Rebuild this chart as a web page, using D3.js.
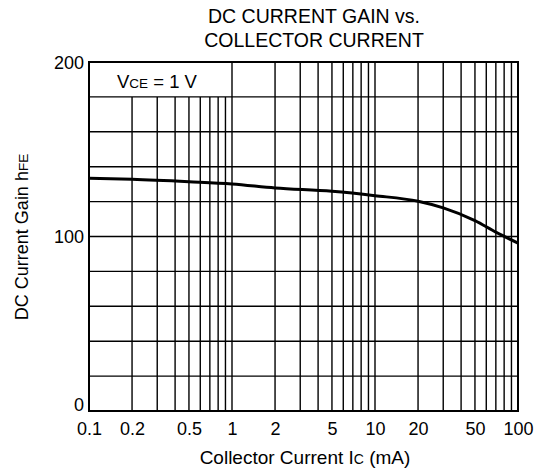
<!DOCTYPE html>
<html><head><meta charset="utf-8">
<script src="https://cdn.jsdelivr.net/npm/d3@7"></script>
<style>body{margin:0;background:#fff}svg{display:block}text{font-family:"Liberation Sans",Arial,sans-serif;fill:#000}</style>
</head><body>
<script>
const currentIc = [0.1, 0.2, 0.5, 1, 2, 5, 10, 20, 30, 50, 70, 100];
const gainHfe = [133.4, 132.8, 131.4, 130.1, 127.8, 125.9, 123.4, 120.2, 116.4, 109.1, 102.5, 96.2];
const xTickLabels = [0.1, 0.2, 0.5, 1, 2, 5, 10, 20, 50, 100];
const yTickLabels = [0, 100, 200];
const yGrid = d3.range(0, 201, 20);

const W = 543, H = 473;
const m = {l: 89, r: 518, t: 62, b: 411};
const svg = d3.select("body").append("svg").attr("width", W).attr("height", H);
const x = d3.scaleLog().domain([0.1, 100]).range([m.l, m.r]);
const y = d3.scaleLinear().domain([0, 200]).range([m.b, m.t]);

const xGrid = [];
for (let d = 0.1; d < 100; d *= 10) for (let k = 1; k <= 10; k++) xGrid.push(+(d * k).toPrecision(3));
const xg = Array.from(new Set(xGrid));

const g = svg.append("g");
g.selectAll(".hg").data(yGrid.filter(v => v > 0 && v < 200)).join("line")
  .attr("x1", m.l).attr("x2", m.r).attr("y1", d => y(d)).attr("y2", d => y(d))
  .attr("stroke", "#000").attr("stroke-width", 1.4);
g.selectAll(".vg").data(xg.filter(v => v > 0.1 && v < 100)).join("line")
  .attr("x1", d => x(d)).attr("x2", d => x(d))
  .attr("y1", m.b).attr("y2", d => d < 1 ? y(180) : m.t)
  .attr("stroke", "#000").attr("stroke-width", 1.4);
g.append("rect").attr("x", m.l).attr("y", m.t).attr("width", m.r - m.l).attr("height", m.b - m.t)
  .attr("fill", "none").attr("stroke", "#000").attr("stroke-width", 2);

const data = currentIc.map((c, i) => [c, gainHfe[i]]);
svg.append("path").datum(data)
  .attr("d", d3.line().x(d => x(d[0])).y(d => y(d[1])).curve(d3.curveMonotoneX))
  .attr("fill", "none").attr("stroke", "#000").attr("stroke-width", 3);

const xAxis = d3.axisBottom(x).tickValues(xTickLabels).tickSize(0).tickFormat(d3.format("~g"));
const xa = svg.append("g").attr("transform", `translate(0,${m.b})`).call(xAxis);
xa.select(".domain").remove();
xa.selectAll("text").attr("font-size", 18).attr("dy", null).attr("y", 24)
  .style("font-family", '"Liberation Sans",Arial,sans-serif').attr("fill", "#000");

const yAxis = d3.axisLeft(y).tickValues(yTickLabels).tickSize(0);
const ya = svg.append("g").attr("transform", `translate(${m.l},0)`).call(yAxis);
ya.select(".domain").remove();
ya.selectAll("text").attr("font-size", 18).attr("x", -5).attr("dy", d => d === 0 ? "-0.05em" : "0.36em")
  .style("font-family", '"Liberation Sans",Arial,sans-serif').attr("fill", "#000");

const title = svg.append("text").attr("text-anchor", "middle").attr("font-size", 19.5);
title.append("tspan").attr("x", 314).attr("y", 23).text("DC CURRENT GAIN vs.");
title.append("tspan").attr("x", 314).attr("y", 47).text("COLLECTOR CURRENT");

const vt = svg.append("text").attr("x", 117).attr("y", 88).attr("font-size", 18.5);
vt.append("tspan").text("V");
vt.append("tspan").attr("font-size", 13.5).text("CE");
vt.append("tspan").text(" = 1 V");

const xt = svg.append("text").attr("x", 305).attr("y", 464).attr("text-anchor", "middle").attr("font-size", 19);
xt.append("tspan").text("Collector Current I");
xt.append("tspan").attr("font-size", 14).text("C");
xt.append("tspan").text(" (mA)");

const yt = svg.append("text").attr("transform", "translate(28,237) rotate(-90)").attr("text-anchor", "middle").attr("font-size", 18);
yt.append("tspan").text("DC Current Gain h");
yt.append("tspan").attr("font-size", 13.5).text("FE");
</script>
</body></html>
